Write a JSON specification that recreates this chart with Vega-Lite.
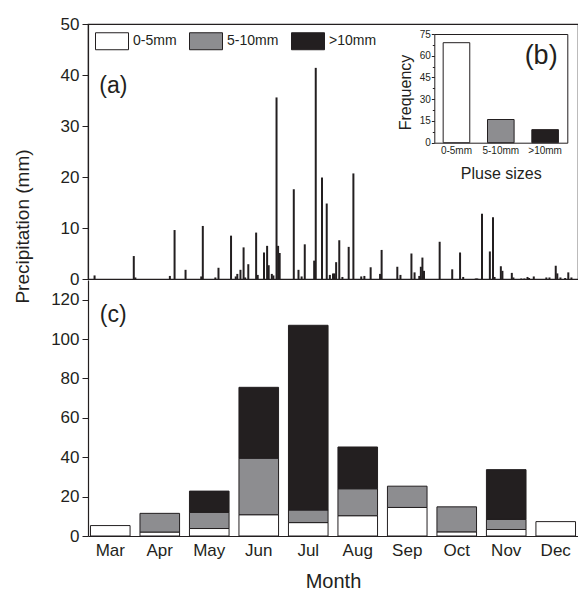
{
  "$schema": "https://vega.github.io/schema/vega-lite/v6.json",
  "padding": {"left": 12, "top": 14, "right": 0, "bottom": 5},
  "spacing": 1,
  "bounds": "flush",
  "config": {
    "font": "Liberation Sans",
    "view": {"stroke": null},
    "axis": {
      "domainColor": "#231f20", "domainWidth": 1.2,
      "tickColor": "#231f20", "tickWidth": 1,
      "labelColor": "#231f20", "titleColor": "#231f20",
      "labelFont": "Liberation Sans", "titleFont": "Liberation Sans",
      "titleFontWeight": "normal", "grid": false
    },
    "text": {"font": "Liberation Sans", "color": "#231f20", "fontWeight": "normal"}
  },
  "datasets": {
    "daily": [
      {"day":1,"p":0.7},{"day":26,"p":4.5},{"day":27,"p":0.3},{"day":49,"p":0.6},{"day":52,"p":9.6},{"day":59,"p":1.8},
      {"day":69,"p":0.5},{"day":70,"p":10.4},{"day":78,"p":0.3},{"day":80,"p":2.2},{"day":88,"p":8.5},{"day":91,"p":0.5},
      {"day":92,"p":1.0},{"day":94,"p":1.8},{"day":96,"p":6.2},{"day":97,"p":0.3},{"day":99,"p":2.9},{"day":104,"p":9.1},
      {"day":105,"p":0.8},{"day":109,"p":5.2},{"day":111,"p":6.5},{"day":112,"p":2.7},{"day":114,"p":1.0},{"day":115,"p":0.7},
      {"day":117,"p":35.6},{"day":118,"p":6.5},{"day":119,"p":5.1},{"day":128,"p":17.6},{"day":131,"p":1.8},{"day":133,"p":0.5},
      {"day":135,"p":6.8},{"day":141,"p":3.6},{"day":142,"p":41.4},{"day":146,"p":19.9},{"day":149,"p":14.8},{"day":151,"p":0.8},
      {"day":153,"p":1.1},{"day":154,"p":1.1},{"day":155,"p":3.3},{"day":157,"p":7.6},{"day":159,"p":0.4},{"day":163,"p":6.3},
      {"day":166,"p":20.7},{"day":171,"p":0.5},{"day":173,"p":0.6},{"day":177,"p":2.3},{"day":183,"p":1.0},{"day":184,"p":5.7},
      {"day":194,"p":2.4},{"day":196,"p":0.8},{"day":203,"p":5.0},{"day":205,"p":1.3},{"day":208,"p":0.6},{"day":209,"p":2.4},
      {"day":210,"p":4.2},{"day":211,"p":1.6},{"day":221,"p":7.3},{"day":229,"p":1.9},{"day":234,"p":5.2},{"day":236,"p":0.4},
      {"day":244,"p":0.1},{"day":245,"p":0.1},{"day":248,"p":12.8},{"day":253,"p":5.4},{"day":255,"p":12.1},{"day":256,"p":0.4},
      {"day":260,"p":2.5},{"day":261,"p":1.6},{"day":267,"p":1.2},{"day":268,"p":0.3},{"day":273,"p":0.1},{"day":275,"p":0.1},
      {"day":277,"p":0.4},{"day":278,"p":0.2},{"day":281,"p":0.5},{"day":289,"p":0.3},{"day":291,"p":0.3},{"day":295,"p":2.6},
      {"day":296,"p":1.1},{"day":298,"p":0.3},{"day":301,"p":0.2},{"day":303,"p":1.3},{"day":305,"p":0.3}
    ],
    "freq": [
      {"size":"0-5mm","freq":69},{"size":"5-10mm","freq":16},{"size":">10mm","freq":9}
    ],
    "monthly": [
      {"month":"Mar","size":"0-5mm","p":5.3},
      {"month":"Apr","size":"0-5mm","p":2.0},{"month":"Apr","size":"5-10mm","p":9.5},
      {"month":"May","size":"0-5mm","p":3.8},{"month":"May","size":"5-10mm","p":8.2},{"month":"May","size":">10mm","p":10.8},
      {"month":"Jun","size":"0-5mm","p":10.8},{"month":"Jun","size":"5-10mm","p":28.7},{"month":"Jun","size":">10mm","p":36.0},
      {"month":"Jul","size":"0-5mm","p":6.8},{"month":"Jul","size":"5-10mm","p":6.4},{"month":"Jul","size":">10mm","p":93.8},
      {"month":"Aug","size":"0-5mm","p":10.3},{"month":"Aug","size":"5-10mm","p":13.7},{"month":"Aug","size":">10mm","p":21.2},
      {"month":"Sep","size":"0-5mm","p":14.5},{"month":"Sep","size":"5-10mm","p":10.8},
      {"month":"Oct","size":"0-5mm","p":2.1},{"month":"Oct","size":"5-10mm","p":12.7},
      {"month":"Nov","size":"0-5mm","p":3.3},{"month":"Nov","size":"5-10mm","p":5.1},{"month":"Nov","size":">10mm","p":25.3},
      {"month":"Dec","size":"0-5mm","p":7.3}
    ]
  },
  "resolve": {"scale": {"color": "independent"}, "legend": {"color": "independent"}},
  "vconcat": [
    {
      "width": 490,
      "height": 255,
      "view": {"stroke": "#231f20", "strokeWidth": 1.2},
      "layer": [
        {
          "layer": [
            {
              "data": {"name": "daily"},
              "mark": {"type": "bar", "width": 2, "color": "#231f20"},
              "encoding": {
                "x": {"field": "day", "type": "quantitative", "scale": {"domain": [0, 306], "nice": false, "zero": false}, "axis": null},
                "y": {"field": "p", "type": "quantitative", "scale": {"domain": [0, 50], "nice": false},
                  "axis": {
                    "values": [0,5,10,15,20,25,30,35,40,45,50],
                    "labelExpr": "datum.value % 10 === 0 ? datum.label : ''",
                    "tickSize": {"condition": {"test": "datum.value % 10 === 0", "value": 6}, "value": 3},
                    "labelFontSize": 17, "labelPadding": 3,
                    "title": "Precipitation (mm)", "titleFontSize": 19,
                    "titleX": -66, "titleY": 202, "titleAngle": -90, "titleAlign": "center", "titleBaseline": "middle"
                  }
                }
              }
            },
            {
              "data": {"values": [{}]},
              "mark": {"type": "text", "text": "(a)", "fontSize": 23, "fontWeight": "normal", "align": "center", "baseline": "middle"},
              "encoding": {
                "x": {"datum": 13, "type": "quantitative"},
                "y": {"datum": 37.8, "type": "quantitative"}
              }
            }
          ]
        },
        {
          "data": {"name": "freq"},
          "layer": [
            {
              "mark": {"type": "bar", "stroke": "#231f20", "strokeWidth": 1},
              "encoding": {
                "x": {"field": "size", "type": "nominal", "sort": ["0-5mm","5-10mm",">10mm"],
                  "scale": {"range": [346.3, 479.3], "paddingInner": 0.4, "paddingOuter": 0.2},
                  "axis": {"orient": "bottom", "offset": -136.3, "ticks": false, "labelFontSize": 10, "labelPadding": 3, "labelAngle": 0,
                    "title": "Pluse sizes", "titleFontSize": 16, "titleY": 31, "titleBaseline": "middle", "domainWidth": 1}
                },
                "y": {"field": "freq", "type": "quantitative",
                  "scale": {"domain": [0, 75], "nice": false, "range": [118.7, 10]},
                  "axis": {"orient": "left", "offset": -346.3,
                    "values": [0,7.5,15,22.5,30,37.5,45,52.5,60,67.5,75],
                    "labelExpr": "datum.value % 15 === 0 ? datum.label : ''",
                    "tickSize": {"condition": {"test": "datum.value % 15 === 0", "value": 3}, "value": 2},
                    "labelFontSize": 10, "labelPadding": 1, "domainWidth": 1,
                    "title": "Frequency", "titleFontSize": 16, "titleX": -29, "titleY": 68,
                    "titleAngle": -90, "titleAlign": "center", "titleBaseline": "middle"}
                },
                "color": {"field": "size", "type": "nominal",
                  "scale": {"domain": ["0-5mm","5-10mm",">10mm"], "range": ["#ffffff","#8d8d90","#231f20"]},
                  "legend": {
                    "orient": "none", "legendX": 7, "legendY": 0, "direction": "horizontal", "title": null,
                    "symbolType": "M-1,-0.515H1V0.515H-1Z", "symbolSize": 1089,
                    "symbolStrokeColor": "#231f20", "symbolStrokeWidth": 1, "symbolOpacity": 1,
                    "labelFontSize": 14, "labelColor": "#231f20", "labelOffset": 4, "columnPadding": 10
                  }
                }
              }
            },
            {
              "mark": {"type": "bar", "opacity": 0},
              "encoding": {
                "x": {"field": "size", "type": "nominal", "sort": ["0-5mm","5-10mm",">10mm"],
                  "scale": {"range": [346.3, 479.3], "paddingInner": 0.4, "paddingOuter": 0.2},
                  "axis": {"orient": "top", "offset": -10, "ticks": false, "labels": false, "title": null, "domainWidth": 1}
                },
                "y": {"field": "freq", "type": "quantitative",
                  "scale": {"domain": [0, 75], "nice": false, "range": [118.7, 10]},
                  "axis": {"orient": "right", "offset": -10.7, "ticks": false, "labels": false, "title": null, "domainWidth": 1}
                }
              }
            },
            {
              "data": {"values": [{}]},
              "mark": {"type": "text", "text": "(b)", "fontSize": 27, "fontWeight": "normal", "align": "center", "baseline": "middle", "dx": -4},
              "encoding": {
                "x": {"datum": ">10mm", "type": "nominal", "axis": null},
                "y": {"datum": 60, "type": "quantitative", "axis": null}
              }
            }
          ],
          "resolve": {"axis": {"x": "independent", "y": "independent"}}
        }
      ],
      "resolve": {"scale": {"x": "independent", "y": "independent"}, "axis": {"x": "independent", "y": "independent"}}
    },
    {
      "width": 490,
      "height": 256,
      "layer": [
        {
          "data": {"name": "monthly"},
          "mark": {"type": "bar", "stroke": "#231f20", "strokeWidth": 1},
          "encoding": {
            "x": {"field": "month", "type": "nominal",
              "sort": ["Mar","Apr","May","Jun","Jul","Aug","Sep","Oct","Nov","Dec"],
              "scale": {"paddingInner": 0.2, "paddingOuter": 0.05},
              "axis": {"ticks": false, "labelFontSize": 17, "labelPadding": 6, "labelAngle": 0,
                "title": "Month", "titleFontSize": 20, "titlePadding": 13}
            },
            "y": {"field": "p", "type": "quantitative", "stack": "zero",
              "scale": {"domain": [0, 130], "nice": false},
              "axis": {
                "values": [0,10,20,30,40,50,60,70,80,90,100,110,120],
                "labelExpr": "datum.value % 20 === 0 ? datum.label : ''",
                "tickSize": {"condition": {"test": "datum.value % 20 === 0", "value": 6}, "value": 3},
                "labelFontSize": 17, "labelPadding": 3, "title": null
              }
            },
            "color": {"field": "size", "type": "nominal",
              "scale": {"domain": ["0-5mm","5-10mm",">10mm"], "range": ["#ffffff","#8d8d90","#231f20"]},
              "legend": null},
            "order": {"field": "size", "type": "nominal", "sort": "ascending"}
          }
        },
        {
          "data": {"values": [{}]},
          "mark": {"type": "text", "text": "(c)", "fontSize": 23, "fontWeight": "normal", "align": "center", "baseline": "middle", "dx": 3},
          "encoding": {
            "x": {"datum": "Mar", "type": "nominal"},
            "y": {"datum": 112, "type": "quantitative"}
          }
        }
      ]
    }
  ]
}
